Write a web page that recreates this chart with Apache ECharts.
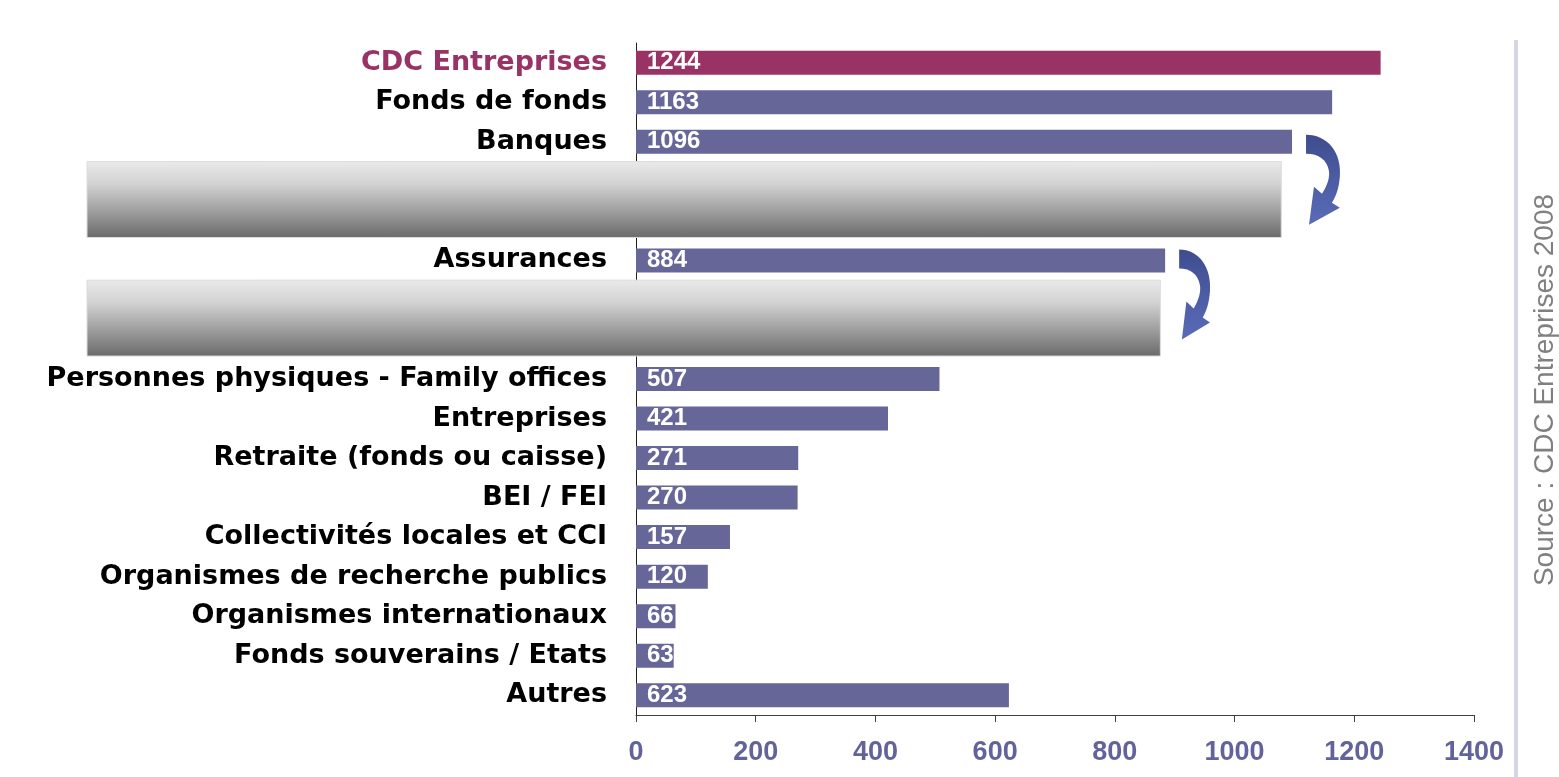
<!DOCTYPE html>
<html>
<head>
<meta charset="utf-8">
<script src="https://cdn.jsdelivr.net/npm/echarts@6/dist/echarts.min.js"></script>
<style>
  html, body { margin: 0; padding: 0; background: #fff; }
  #chart { width: 1559px; height: 777px; }
</style>
</head>
<body>
<div id="chart"></div>
<script>
// rows hidden under the grey boxes keep blank names (distinct, so the axis keeps them apart)
const categories = [
  'CDC Entreprises', 'Fonds de fonds', 'Banques', ' ', '  ', 'Assurances', '   ', '    ',
  'Personnes physiques - Family offices', 'Entreprises', 'Retraite (fonds ou caisse)',
  'BEI / FEI', 'Collectivités locales et CCI', 'Organismes de recherche publics',
  'Organismes internationaux', 'Fonds souverains / Etats', 'Autres'
]
const values = [1244, 1163, 1096, null, null, 884, null, null, 507, 421, 271, 270, 157, 120, 66, 63, 623]
const xTicks = [0, 200, 400, 600, 800, 1000, 1200, 1400]
const highlight = 'CDC Entreprises'
const arrowRows = [2, 5] // Banques, Assurances
const sourceText = 'Source : CDC Entreprises 2008'

const BAR = '#666699'
const BAR_HI = '#993366'

const arrowFill = new echarts.graphic.LinearGradient(0, 0, 0, 1, [
  { offset: 0, color: '#3f4d8e' },
  { offset: 1, color: '#5a6bb8' }
])
const arrowPath = 'M0,0 C22,0 36,18 34,42 C33,54 30,62 26,68 L34,73 L3,90 L8,52 L16,59 C22,50 24,42 23,36 C21,25 13,19 0,19 Z'

let myChart = echarts.init(document.getElementById('chart'))

let option = {
  animation: false,
  grid: { left: 636, right: 85, top: 43, bottom: 62, containLabel: false },
  xAxis: {
    type: 'value',
    min: xTicks[0],
    max: xTicks[xTicks.length - 1],
    interval: xTicks[1] - xTicks[0],
    axisLine: { show: true, lineStyle: { color: '#404040', width: 1 } },
    axisTick: { show: true, length: 7, lineStyle: { color: '#404040' } },
    splitLine: { show: false },
    axisLabel: {
      margin: 24,
      color: '#63639b',
      fontFamily: 'Liberation Sans',
      fontWeight: 'bold',
      fontSize: 27,
      formatter: (v) => String(v)
    }
  },
  yAxis: {
    type: 'category',
    inverse: true,
    data: categories,
    axisLine: { show: true, lineStyle: { color: '#202020', width: 1 } },
    axisTick: { show: false },
    axisLabel: {
      margin: 29,
      padding: [6, 0, 0, 0],
      fontFamily: 'DejaVu Sans',
      fontWeight: 'bold',
      fontSize: 27,
      color: (val) => (val === highlight ? BAR_HI : '#000')
    }
  },
  series: [
    {
      type: 'bar',
      barWidth: 24,
      data: values.map((v, i) => ({
        value: v,
        itemStyle: { color: categories[i] === highlight ? BAR_HI : BAR }
      })),
      label: {
        show: true,
        position: 'insideLeft',
        distance: 11,
        color: '#fff',
        fontFamily: 'Liberation Sans',
        fontWeight: 'bold',
        fontSize: 24
      }
    },
    {
      // curved arrows next to the Banques and Assurances bars
      type: 'custom',
      clip: false,
      z: 5,
      data: arrowRows.map((r) => [values[r], r]),
      renderItem: (params, api) => {
        const p = api.coord([api.value(0), api.value(1)])
        const first = params.dataIndex === 0
        return {
          type: 'path',
          shape: {
            pathData: arrowPath,
            x: p[0] + 14, y: p[1] + (first ? -7 : -11),
            width: first ? 34 : 31, height: 90,
            layout: 'cover'
          },
          style: { fill: arrowFill }
        }
      }
    }
  ]
}
myChart.setOption(option)

// grey masks over the hidden rows
const px = (v, row) => myChart.convertToPixel({ gridIndex: 0 }, [v, row])
const band = px(0, 1)[1] - px(0, 0)[1]

const maskFill = new echarts.graphic.LinearGradient(0, 0, 0, 1, [
  { offset: 0, color: '#eaeaea' },
  { offset: 0.3, color: '#d2d2d2' },
  { offset: 1, color: '#6a6a6a' }
])

function mask(rowA, rowB, rightValue) {
  const top = px(0, rowA)[1] - band / 2
  const bottom = px(0, rowB)[1] + band * 0.42
  const right = px(rightValue, rowA)[0]
  return {
    type: 'rect', z: 100,
    shape: { x: 87, y: top, width: right - 87, height: bottom - top },
    style: { fill: maskFill, stroke: '#dcdcdc', lineWidth: 1 }
  }
}

myChart.setOption({
  graphic: [
    mask(3, 4, 1078),
    mask(6, 7, 876),
    {
      type: 'rect',
      shape: { x: 1514, y: 40, width: 4, height: 737 },
      style: { fill: '#d5d8e4' }
    },
    {
      type: 'text',
      x: 1545, y: 390,
      rotation: Math.PI / 2,
      style: {
        text: sourceText,
        fill: '#808080',
        font: '28px "Liberation Sans"',
        align: 'center',
        verticalAlign: 'middle'
      }
    }
  ]
})
</script>
</body>
</html>
